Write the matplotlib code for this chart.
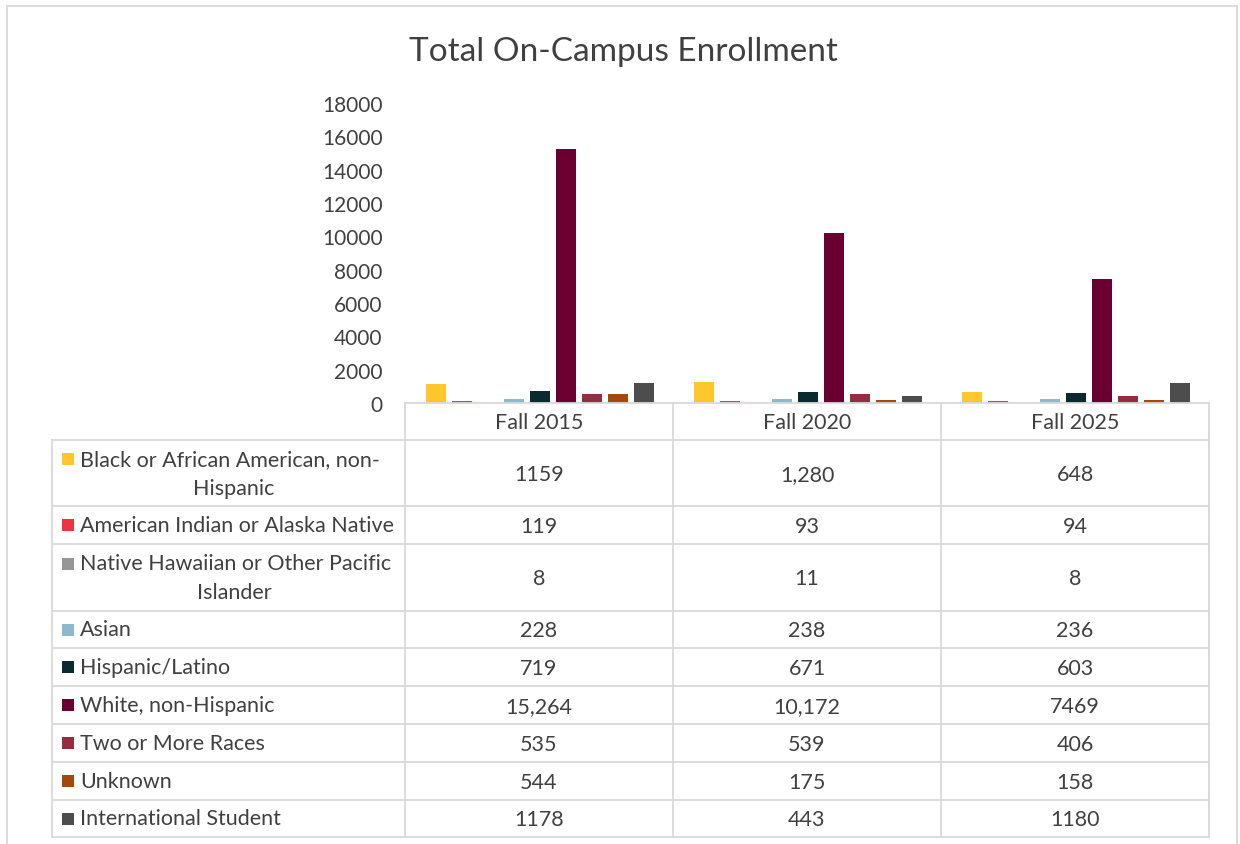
import matplotlib
matplotlib.use("Agg")
import matplotlib.pyplot as plt
import numpy as np
from matplotlib.lines import Line2D
from matplotlib.patches import Rectangle

plt.rcParams['font.family'] = ['Lato', 'DejaVu Sans']

# data
years = ["Fall 2015", "Fall 2020", "Fall 2025"]
groups = ["Black or African American, non-Hispanic",
          "American Indian or Alaska Native",
          "Native Hawaiian or Other Pacific Islander",
          "Asian", "Hispanic/Latino", "White, non-Hispanic",
          "Two or More Races", "Unknown", "International Student"]
# label lines as wrapped in the table
label_lines = [["Black or African American, non-", "Hispanic"],
               ["American Indian or Alaska Native"],
               ["Native Hawaiian or Other Pacific", "Islander"],
               ["Asian"], ["Hispanic/Latino"], ["White, non-Hispanic"],
               ["Two or More Races"], ["Unknown"], ["International Student"]]
values = [[1159, 1280, 648],
          [119, 93, 94],
          [8, 11, 8],
          [228, 238, 236],
          [719, 671, 603],
          [15264, 10172, 7469],
          [535, 539, 406],
          [544, 175, 158],
          [1178, 443, 1180]]
shown = [["1159", "1,280", "648"],
         ["119", "93", "94"],
         ["8", "11", "8"],
         ["228", "238", "236"],
         ["719", "671", "603"],
         ["15,264", "10,172", "7469"],
         ["535", "539", "406"],
         ["544", "175", "158"],
         ["1178", "443", "1180"]]
colors = ["#ffc72c", "#ef3340", "#979797", "#8db9ca", "#0b2a2f",
          "#6a0032", "#952d40", "#a4490e", "#4d4d4d"]
yticks = np.arange(0, 18001, 2000)

W, H = 1240, 845
TXT = "#404040"
GRID = "#d9d9d9"
FS = 15.5

fig = plt.figure(figsize=(W / 100, H / 100), dpi=100)

def fx(x):
    return x / W

def fy(y):
    return 1 - y / H

def hline(x0, x1, y, c=GRID, lw=1.3):
    fig.add_artist(Line2D([fx(x0), fx(x1)], [fy(y), fy(y)], color=c, lw=lw))

def vline(x, y0, y1, c=GRID, lw=1.3):
    fig.add_artist(Line2D([fx(x), fx(x)], [fy(y0), fy(y1)], color=c, lw=lw))

# outer chart border
fig.add_artist(Rectangle((fx(7), -0.01), fx(1237) - fx(7), fy(7) + 0.01,
                         fill=False, ec=GRID, lw=1.3))

fig.text(fx(623), fy(52), "Total On-Campus Enrollment", ha="center",
         va="center", fontsize=24, color=TXT)

# bar area
ax_l, ax_r, ax_t, ax_b = 405, 1209, 104, 404
ax = fig.add_axes([fx(ax_l), fy(ax_b), fx(ax_r - ax_l), (ax_b - ax_t) / H])
n = len(groups)
pitch, bw = 0.097, 0.075
x = np.arange(len(years))
for j in range(n):
    ax.bar(x + (j - (n - 1) / 2) * pitch + 0.005, [values[j][i] for i in range(len(years))],
           width=bw, color=colors[j])
ax.set_xlim(-0.5, len(years) - 0.5)
ax.set_ylim(0, 18000)
ax.set_yticks(yticks)
ax.set_yticklabels([str(t) for t in yticks], fontsize=15, color=TXT)
ax.tick_params(axis="y", length=0, pad=16)
ax.set_xticks([])
for s in ["left", "right", "top"]:
    ax.spines[s].set_visible(False)
ax.spines["bottom"].set_color(GRID)
ax.spines["bottom"].set_linewidth(1.3)
ax.patch.set_alpha(0)

# data table
col_x = [405, 673, 941, 1209]
row_y = [441, 507, 545, 612, 649, 687, 725, 763, 801, 838]
tab_l = 52
head_top = 404

vline(col_x[0], head_top, row_y[-1])
for cx in col_x[1:]:
    vline(cx, head_top, row_y[-1])
vline(tab_l, row_y[0], row_y[-1])
for ry in row_y:
    hline(tab_l, col_x[-1], ry)

for i, yr in enumerate(years):
    fig.text(fx((col_x[i] + col_x[i + 1]) / 2), fy((head_top + row_y[0]) / 2 + 1), yr,
             ha="center", va="center", fontsize=FS, color=TXT)

for j in range(n):
    top, bot = row_y[j], row_y[j + 1]
    mid = (top + bot) / 2
    lines = label_lines[j]
    if len(lines) == 1:
        ys = [mid]
    else:
        ys = [mid - 14, mid + 15]
    fig.add_artist(Rectangle((fx(62), fy(ys[0] + 6)), fx(12), 12 / H,
                             color=colors[j], lw=0))
    fig.text(fx(80), fy(ys[0]), lines[0], ha="left", va="center",
             fontsize=FS, color=TXT)
    if len(lines) > 1:
        fig.text(fx(234), fy(ys[1]), lines[1], ha="center", va="center",
                 fontsize=FS, color=TXT)
    for i in range(len(years)):
        fig.text(fx((col_x[i] + col_x[i + 1]) / 2), fy(mid + 1), shown[j][i],
                 ha="center", va="center", fontsize=FS, color=TXT)

fig.savefig("out.png", dpi=100)
